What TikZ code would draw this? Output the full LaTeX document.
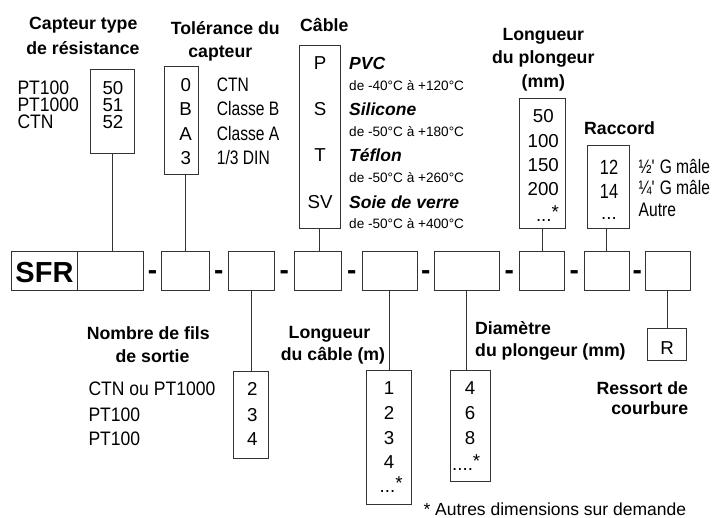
\documentclass[tikz,border=0pt]{standalone}
\usepackage{fontspec}
\setmainfont{Liberation Sans}
\newfontfamily\narA[FakeStretch=0.9]{Liberation Sans}
\newfontfamily\narB[FakeStretch=0.8]{Liberation Sans}
\usetikzlibrary{fit,calc}
\begin{document}
\begin{tikzpicture}[x=1pt,y=-1pt,
  bx/.style={draw=black!80, line width=0.9pt, inner sep=0pt},
  ln/.style={draw=black!80, line width=0.9pt},
  ttl/.style={font=\bfseries\fontsize{17.7}{20}\selectfont, inner sep=0pt},
  txt/.style={font=\narA\fontsize{19.5}{21}\selectfont, inner sep=0pt},
  tlist/.style={font=\narA\fontsize{19.5}{16.7}\selectfont, inner sep=0pt, align=left},
  nlist/.style={font=\fontsize{18.7}{16.7}\selectfont, inner sep=0pt, align=center},
  num/.style={font=\fontsize{18.7}{20}\selectfont, inner sep=0pt},
  cnum/.style={font=\narB\fontsize{20.5}{22}\selectfont, inner sep=0pt},
  lbl/.style={font=\narB\fontsize{19.5}{21}\selectfont, inner sep=0pt},
  sml/.style={font=\fontsize{13.6}{16}\selectfont, inner sep=0pt},
  ftn/.style={font=\fontsize{17.5}{20}\selectfont, inner sep=0pt},
  bit/.style={font=\bfseries\itshape\fontsize{17.5}{20}\selectfont, inner sep=0pt},
  sfr/.style={font=\bfseries\fontsize{29}{32}\selectfont, inner sep=0pt},
  dsh/.style={font=\bfseries\fontsize{28}{30}\selectfont, inner sep=0pt}]
\useasboundingbox (0,0) rectangle (715,518);

% ---------- Capteur type de résistance
\node[ttl,anchor=base] (capT1) at (83.3,30) {Capteur type};
\node[ttl,anchor=base] (capT2) at (83,54.3) {de résistance};
\node[bx,fit={(90.7,69) (134.3,153.3)}] (cap) {};
\node[tlist,anchor=north west] (capL) at (17.3,81) {PT100\\PT1000\\CTN};
\node[nlist,anchor=north] (capN) at (113,81.6) {50\\51\\52};

% ---------- Tolérance du capteur
\node[ttl,anchor=base] (tolT1) at (225.3,34.5) {Tolérance du};
\node[ttl,anchor=base] (tolT2) at (220.3,57.5) {capteur};
\node[bx,fit={(164.3,66.7) (198.3,174.3)}] (tol) {};
\node[num,anchor=base] (tolN1) at (185.7,91.7) {0};
\node[num,anchor=base] (tolN2) at (185.7,115.9) {B};
\node[num,anchor=base] (tolN3) at (185.7,140.1) {A};
\node[num,anchor=base] (tolN4) at (185.7,164.3) {3};
\node[lbl,anchor=base west] (tolL1) at (216.7,91.7) {CTN};
\node[lbl,anchor=base west] (tolL2) at (216.7,115.9) {Classe B};
\node[lbl,anchor=base west] (tolL3) at (216.7,140.1) {Classe A};
\node[lbl,anchor=base west] (tolL4) at (216.7,164.3) {1/3 DIN};

% ---------- Câble
\node[ttl,anchor=base west] (cabT) at (300,31.7) {Câble};
\node[bx,fit={(299,45) (340.7,228.3)}] (cable) {};
\node[num,anchor=base] (cabN1) at (320,70) {P};
\node[num,anchor=base] (cabN2) at (320,116) {S};
\node[num,anchor=base] (cabN3) at (320,161.7) {T};
\node[num,anchor=base] (cabN4) at (320,208.3) {SV};
\node[bit,anchor=base west] (cabM1) at (349,70) {PVC};
\node[bit,anchor=base west] (cabM2) at (349,116) {Silicone};
\node[bit,anchor=base west] (cabM3) at (349,161.7) {Téflon};
\node[bit,anchor=base west] (cabM4) at (349,208.3) {Soie de verre};
\node[sml,anchor=base west] (cabR1) at (349,90.7) {de -40°C à +120°C};
\node[sml,anchor=base west] (cabR2) at (349,136.7) {de -50°C à +180°C};
\node[sml,anchor=base west] (cabR3) at (349,182.7) {de -50°C à +260°C};
\node[sml,anchor=base west] (cabR4) at (349,228.3) {de -50°C à +400°C};

% ---------- Longueur du plongeur
\node[ttl,anchor=base] (plgT1) at (543.3,40.7) {Longueur};
\node[ttl,anchor=base] (plgT2) at (543.3,64) {du plongeur};
\node[ttl,anchor=base] (plgT3) at (543.3,87.3) {(mm)};
\node[bx,fit={(519.3,98.7) (565.7,228.3)}] (plong) {};
\node[num,anchor=base] (plgN1) at (543.3,122.7) {50};
\node[num,anchor=base] (plgN2) at (543.3,147.1) {100};
\node[num,anchor=base] (plgN3) at (543.3,171.5) {150};
\node[num,anchor=base] (plgN4) at (543.3,195.9) {200};
\node[num,anchor=base west] (plgN5) at (535.8,222) {...\raisebox{3pt}{*}};

% ---------- Raccord
\node[ttl,anchor=base west] (racT) at (584,135) {Raccord};
\node[bx,fit={(587.3,145) (629.3,228.3)}] (racc) {};
\node[cnum,anchor=base] (racN1) at (609,174.3) {12};
\node[cnum,anchor=base] (racN2) at (609,198.5) {14};
\node[num,anchor=base] (racN3) at (609,220) {...};
\node[lbl,anchor=base west] (racL1) at (638.5,173.5) {½\textquotesingle{} G mâle};
\node[lbl,anchor=base west] (racL2) at (638.5,195) {¼\textquotesingle{} G mâle};
\node[lbl,anchor=base west] (racL3) at (638.5,216.5) {Autre};

% ---------- Reference row
\node[bx,fit={(11.7,251.7) (77.3,290.5)}] (r1) {};
\node[sfr,anchor=base] (sfr) at (44.5,282.7) {SFR};
\node[bx,fit={(77.3,251.7) (143.3,290.5)}] (r2) {};
\node[bx,fit={(161.7,251.7) (209,290.5)}] (r3) {};
\node[bx,fit={(228.3,251.7) (274,290.5)}] (r4) {};
\node[bx,fit={(294.3,251.7) (341,290.5)}] (r5) {};
\node[bx,fit={(362.3,251.7) (417.3,290.5)}] (r6) {};
\node[bx,fit={(434,251.7) (499,290.5)}] (r7) {};
\node[bx,fit={(519.3,251.7) (564.3,290.5)}] (r8) {};
\node[bx,fit={(584.3,251.7) (629.3,290.5)}] (r9) {};
\node[bx,fit={(645,251.7) (690,290.5)}] (r10) {};
\node[dsh,anchor=base] (d1) at (152.5,279.3) {-};
\node[dsh,anchor=base] (d2) at (218.7,279.3) {-};
\node[dsh,anchor=base] (d3) at (284.2,279.3) {-};
\node[dsh,anchor=base] (d4) at (351.7,279.3) {-};
\node[dsh,anchor=base] (d5) at (425.7,279.3) {-};
\node[dsh,anchor=base] (d6) at (509.2,279.3) {-};
\node[dsh,anchor=base] (d7) at (574.3,279.3) {-};
\node[dsh,anchor=base] (d8) at (637.2,279.3) {-};

% ---------- Nombre de fils de sortie
\node[ttl,anchor=base] (filT1) at (148.3,340) {Nombre de fils};
\node[ttl,anchor=base] (filT2) at (152.5,362.7) {de sortie};
\node[bx,fit={(233.3,371.7) (268.3,458.3)}] (fils) {};
\node[num,anchor=base] (filN1) at (252.3,396) {2};
\node[num,anchor=base] (filN2) at (252.3,421) {3};
\node[num,anchor=base] (filN3) at (252.3,446) {4};
\node[txt,anchor=base west] (filL1) at (88.3,396) {CTN ou PT1000};
\node[txt,anchor=base west] (filL2) at (88.3,421) {PT100};
\node[txt,anchor=base west] (filL3) at (88.3,446) {PT100};

% ---------- Longueur du câble
\node[ttl,anchor=base] (lcT1) at (329.5,338.3) {Longueur};
\node[ttl,anchor=base] (lcT2) at (333,361) {du câble (m)};
\node[bx,fit={(366.7,370) (411,504.3)}] (lcab) {};
\node[num,anchor=base] (lcN1) at (389,395) {1};
\node[num,anchor=base] (lcN2) at (389,419.5) {2};
\node[num,anchor=base] (lcN3) at (389,444) {3};
\node[num,anchor=base] (lcN4) at (389,468.5) {4};
\node[num,anchor=base west] (lcN5) at (379.5,492.5) {...\raisebox{2.5pt}{*}};

% ---------- Diamètre du plongeur
\node[ttl,anchor=base west] (dmT1) at (475,335) {Diamètre};
\node[ttl,anchor=base west] (dmT2) at (475,356.7) {du plongeur (mm)};
\node[bx,fit={(450.7,370) (490,481.7)}] (diam) {};
\node[num,anchor=base] (dmN1) at (470,395) {4};
\node[num,anchor=base] (dmN2) at (470,419.5) {6};
\node[num,anchor=base] (dmN3) at (470,444) {8};
\node[num,anchor=base west] (dmN4) at (452,470) {....\raisebox{2.5pt}{*}};

% ---------- Ressort de courbure
\node[bx,fit={(647.7,328.3) (686.7,360.7)}] (Rb) {};
\node[num,anchor=base] (Rtxt) at (667.2,355) {R};
\node[ttl,anchor=base east] (rsT1) at (688.3,395) {Ressort de};
\node[ttl,anchor=base east] (rsT2) at (688.3,415) {courbure};

% ---------- Footnote
\node[ftn,anchor=base west] (foot) at (423.3,515.5) {* Autres dimensions sur demande};

% ---------- Connectors
\draw[ln] (cap.south) -- (cap.south |- r2.north);
\draw[ln] (r3.north |- tol.south) -- (r3.north);
\draw[ln] (r4.south) -- (r4.south |- fils.north);
\draw[ln] (cable.south) -- (cable.south |- r5.north);
\draw[ln] (r6.south) -- (r6.south |- lcab.north);
\draw[ln] (r7.south) -- (r7.south |- diam.north);
\draw[ln] (plong.south) -- (plong.south |- r8.north);
\draw[ln] (r9.north |- racc.south) -- (r9.north);
\draw[ln] (r10.south) -- (r10.south |- Rb.north);
\end{tikzpicture}
\end{document}
